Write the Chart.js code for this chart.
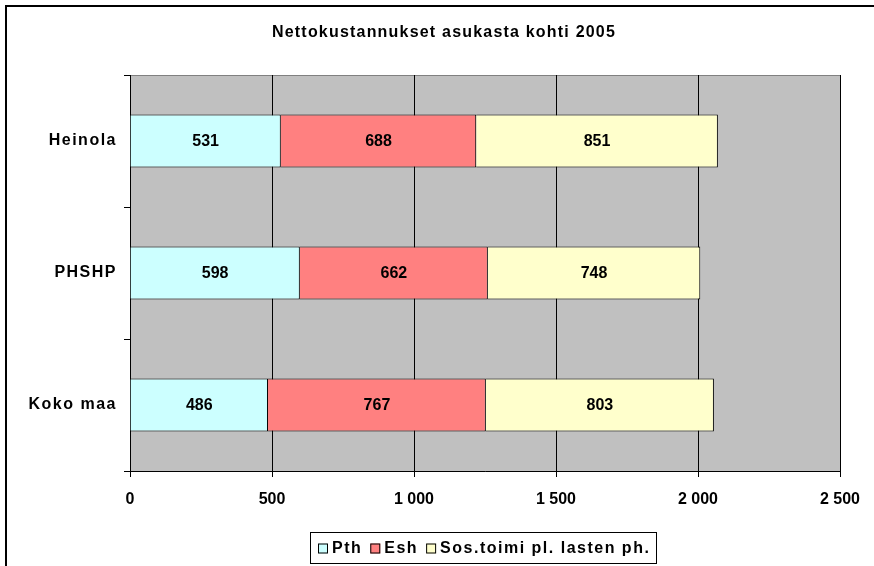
<!DOCTYPE html>
<html>
<head>
  <title>Nettokustannukset asukasta kohti 2005</title>
  <script src="https://cdn.jsdelivr.net/npm/chart.js"></script>
  <style>
    body { margin: 0; background: #fff; }
    #wrap { width: 874px; height: 566px; position: relative; }
  </style>
</head>
<body>
  <div id="wrap"><canvas id="chart" width="874" height="566"></canvas></div>
  <script>
    const categories = ['Heinola', 'PHSHP', 'Koko maa'];
    const pth = [531, 598, 486];
    const esh = [688, 662, 767];
    const sos = [851, 748, 803];
    const seriesNames = ['Pth', 'Esh', 'Sos.toimi pl. lasten ph.'];
    const colors = ['#CCFFFF', '#FF8080', '#FFFFCC'];
    const xTicks = [0, 500, 1000, 1500, 2000, 2500];

    const FAMILY = '"Liberation Sans", Arial, sans-serif';
    const FONT = 'bold 16px ' + FAMILY;
    const fmt = v => String(v).replace(/\B(?=(\d{3})+(?!\d))/g, ' ');

    const framePlugin = {
      id: 'frame',
      beforeDraw(chart) {
        const { ctx, chartArea: a } = chart;
        ctx.letterSpacing = '0px';
        ctx.save();
        ctx.fillStyle = '#fff';
        ctx.fillRect(0, 0, chart.width, chart.height);
        ctx.strokeStyle = '#000';
        ctx.lineWidth = 2;
        ctx.strokeRect(6, 6, chart.width + 20, chart.height + 20);
        ctx.fillStyle = '#C0C0C0';
        ctx.fillRect(a.left, a.top, a.right - a.left, a.bottom - a.top);
        ctx.strokeStyle = '#808080';
        ctx.lineWidth = 1;
        ctx.strokeRect(a.left + 0.5, a.top + 0.5, a.right - a.left, a.bottom - a.top);
        // title
        ctx.letterSpacing = '1.2px';
        ctx.fillStyle = '#000';
        ctx.font = FONT;
        ctx.textAlign = 'center';
        ctx.textBaseline = 'middle';
        ctx.fillText('Nettokustannukset asukasta kohti 2005', 444, 33);
        ctx.restore();
        ctx.letterSpacing = '0px';
      },
      afterDatasetsDraw(chart) {
        const { ctx } = chart;
        ctx.save();
        ctx.font = FONT;
        ctx.fillStyle = '#000';
        ctx.textAlign = 'center';
        ctx.textBaseline = 'middle';
        chart.data.datasets.forEach((ds, i) => {
          chart.getDatasetMeta(i).data.forEach((bar, j) => {
            const x = (bar.x + bar.base) / 2;
            ctx.fillText(fmt(ds.data[j]), x, bar.y + 1);
          });
        });
        ctx.restore();
        // category labels (y ticks, z=1, drawn after datasets) get wider spacing
        ctx.letterSpacing = '1.5px';
      },
      afterDraw(chart) {
        const { ctx } = chart;
        ctx.letterSpacing = '0px';
        ctx.save();
        ctx.font = FONT;
        // legend box
        const lx = 310, ly = 532, lw = 346, lh = 31;
        ctx.fillStyle = '#fff';
        ctx.fillRect(lx, ly, lw, lh);
        ctx.strokeStyle = '#000';
        ctx.lineWidth = 1;
        ctx.strokeRect(lx + 0.5, ly + 0.5, lw, lh);
        let x = lx + 8;
        const cy = ly + lh / 2 + 1;
        ctx.letterSpacing = '1.5px';
        seriesNames.forEach((name, i) => {
          ctx.fillStyle = colors[i];
          ctx.fillRect(x, cy - 5, 10, 10);
          ctx.strokeStyle = '#000';
          ctx.strokeRect(x + 0.5, cy - 4.5, 9, 9);
          x += 14;
          ctx.fillStyle = '#000';
          ctx.textAlign = 'left';
          ctx.textBaseline = 'middle';
          ctx.fillText(name, x, cy);
          x += ctx.measureText(name).width + 8;
        });
        ctx.restore();
        ctx.letterSpacing = '0px';
      }
    };

    new Chart(document.getElementById('chart'), {
      type: 'bar',
      data: {
        labels: categories,
        datasets: [pth, esh, sos].map((d, i) => ({
          label: seriesNames[i],
          data: d,
          backgroundColor: colors[i],
          borderColor: '#000',
          borderWidth: 1,
          categoryPercentage: 1,
          barPercentage: 0.4
        }))
      },
      options: {
        indexAxis: 'y',
        responsive: false,
        animation: false,
        layout: { padding: { left: 5, right: 34, top: 75, bottom: 0 } },
        plugins: {
          legend: { display: false },
          title: { display: false },
          tooltip: { enabled: false }
        },
        scales: {
          x: {
            stacked: true,
            min: 0,
            max: 2500,
            afterBuildTicks: axis => { axis.ticks = xTicks.map(v => ({ value: v })); },
            afterFit: axis => { axis.height = 95; },
            grid: { color: '#000', tickLength: 6, drawTicks: true },
            border: { color: '#000' },
            ticks: {
              color: '#000',
              padding: 13,
              font: { family: FAMILY, size: 16, weight: 'bold' },
              callback: v => fmt(v)
            }
          },
          y: {
            stacked: true,
            afterFit: axis => { axis.width = 125; },
            grid: { drawOnChartArea: false, color: '#000', tickLength: 6, offset: true },
            border: { color: '#000' },
            ticks: {
              z: 1,
              color: '#000',
              padding: 7,
              font: { family: FAMILY, size: 16, weight: 'bold' }
            }
          }
        }
      },
      plugins: [framePlugin]
    });
  </script>
</body>
</html>
